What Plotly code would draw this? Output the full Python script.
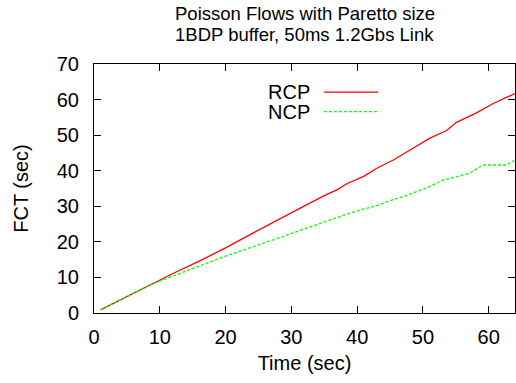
import plotly.graph_objects as go

# Data
time_rcp = [1, 5, 8.5, 12, 16, 20, 24, 28, 32, 35, 37, 38.5, 41, 43, 45.5, 48.5, 51, 53.6, 55.1, 58, 60.7, 64]
fct_rcp = [0.9, 4.6, 7.9, 11.1, 14.6, 18.3, 22.3, 26.3, 30.1, 33.0, 34.7, 36.4, 38.4, 40.7, 43.0, 46.3, 49.1, 51.3, 53.6, 56.1, 58.9, 61.7]

time_ncp = [1, 5, 8.5, 12, 16, 20, 24, 29.3, 34.3, 38, 40.9, 42.9, 45, 47, 50.5, 53.1, 55.1, 57.1, 59.1, 62.7, 64]
fct_ncp = [0.9, 4.6, 7.9, 10.4, 13.2, 16.0, 18.5, 21.9, 25.2, 27.5, 29.2, 30.1, 31.6, 32.7, 35.1, 37.4, 38.3, 39.3, 41.6, 41.6, 43.0]

series_names = ["RCP", "NCP"]
series_colors = ["#ff0000", "#00ff00"]
title_lines = ["Poisson Flows with Paretto size", "1BDP buffer, 50ms 1.2Gbs Link"]

FONT = "Liberation Sans, Arial, Helvetica, sans-serif"
PLOT_TOP, PLOT_BOTTOM = 64, 313
PLOT_H = PLOT_BOTTOM - PLOT_TOP

fig = go.Figure()
fig.add_trace(go.Scatter(x=time_rcp, y=fct_rcp, mode="lines", name=series_names[0],
                         line=dict(color=series_colors[0], width=1.3), showlegend=False))
fig.add_trace(go.Scatter(x=time_ncp, y=fct_ncp, mode="lines", name=series_names[1],
                         line=dict(color=series_colors[1], width=1.3, dash="3px,2px"), showlegend=False))

axis_common = dict(
    showline=True, linecolor="black", linewidth=1, mirror="ticks",
    ticks="inside", ticklen=7, tickcolor="black", tickwidth=1,
    showgrid=False, zeroline=False, dtick=10,
    tickfont=dict(family=FONT, size=20, color="black"),
)

fig.update_layout(
    width=516, height=383,
    margin=dict(l=94, r=1, t=PLOT_TOP, b=383 - PLOT_BOTTOM),
    paper_bgcolor="white", plot_bgcolor="white",
    font=dict(family=FONT, size=20, color="black"),
    xaxis=dict(range=[0, 64], title=dict(text="Time (sec)", font=dict(size=20), standoff=8),
               ticklabelstandoff=6, **axis_common),
    yaxis=dict(range=[0, 70], title=dict(text="FCT (sec)", font=dict(size=20), standoff=22),
               ticklabelstandoff=10, **axis_common),
)

# Title lines (gnuplot-style tight spacing)
title_centers_px = [13.5, 34]
for txt, cy in zip(title_lines, title_centers_px):
    fig.add_annotation(text=txt, xref="paper", yref="paper", x=0.5, y=(PLOT_BOTTOM - cy) / PLOT_H,
                       yanchor="middle", xanchor="center", showarrow=False, borderpad=0,
                       font=dict(family=FONT, size=18.5, color="black"))

# gnuplot-style key: text on the left, sample line on the right
key_y = [0.887, 0.809]
for i, name in enumerate(series_names):
    fig.add_annotation(text=name, xref="paper", yref="paper", x=0.518, y=key_y[i],
                       xanchor="right", yanchor="middle", showarrow=False,
                       font=dict(family=FONT, size=20, color="black"))
    fig.add_shape(type="line", xref="paper", yref="paper", x0=0.546, x1=0.675, y0=key_y[i], y1=key_y[i],
                  line=dict(color=series_colors[i], width=1.3, dash="solid" if i == 0 else "3px,2px"))

fig.write_html("out.html")
